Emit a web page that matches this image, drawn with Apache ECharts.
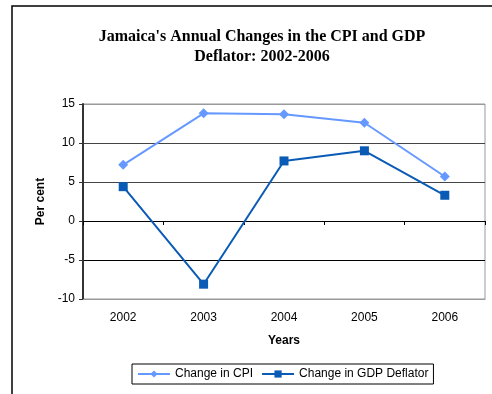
<!DOCTYPE html>
<html>
<head>
<meta charset="utf-8">
<script src="https://cdn.jsdelivr.net/npm/echarts@6/dist/echarts.min.js"></script>
<style>
  html, body { margin: 0; padding: 0; background: #fff; }
  #chart { width: 492px; height: 394px; }
</style>
</head>
<body>
<div id="chart"></div>
<script>
var years = ['2002', '2003', '2004', '2005', '2006'];
var cpiChange = [7.2, 13.8, 13.7, 12.6, 5.7];
var gdpDeflatorChange = [4.4, -8.1, 7.7, 9.0, 3.3];
var yTicks = { min: -10, max: 15, interval: 5 };

var chart = echarts.init(document.getElementById('chart'));

var option = {
	animation : false,
	title : {
		text : "Jamaica's Annual Changes in the CPI and GDP\nDeflator: 2002-2006",
		left : 257,
		top : 22,
		textAlign : 'center',
		textStyle : {
			fontFamily : 'Liberation Serif',
			fontSize : 16,
			fontWeight : 'bold',
			color : '#000',
			lineHeight : 20
		}
	},
	graphic : [ {
		type : 'rect',
		shape : { x : 12, y : 6, width : 520, height : 420 },
		style : { fill : null, stroke : '#000', lineWidth : 1.5 },
		z : -1
	} ],
	legend : {
		data : [ 'Change in CPI', 'Change in GDP Deflator' ],
		left : 132,
		top : 364,
		borderColor : '#000',
		borderWidth : 1,
		padding : [ 4, 5 ],
		itemWidth : 32,
		itemHeight : 9,
		itemGap : 8,
		textStyle : {
			fontFamily : 'Liberation Sans',
			fontSize : 12,
			color : '#000'
		}
	},
	grid : {
		left : 83,
		right : 7,
		top : 104,
		bottom : 95,
		show : true,
		borderColor : '#999',
		borderWidth : 1
	},
	xAxis : [ {
		type : 'category',
		data : years,
		position : 'bottom',
		axisLine : { onZero : false, lineStyle : { color : '#999' } },
		axisTick : { show : false },
		axisLabel : {
			margin : 13,
			fontFamily : 'Liberation Sans',
			fontSize : 12,
			color : '#000'
		},
		name : 'Years',
		nameLocation : 'middle',
		nameGap : 36,
		nameTextStyle : {
			fontFamily : 'Liberation Sans',
			fontSize : 12,
			fontWeight : 'bold',
			color : '#000'
		}
	}, {
		type : 'category',
		data : years,
		position : 'bottom',
		axisLine : { onZero : true, onZeroAxisIndex : 0, lineStyle : { color : '#000' } },
		axisTick : { show : true, length : 4, lineStyle : { color : '#000' } },
		axisLabel : { show : false }
	} ],
	yAxis : {
		type : 'value',
		min : yTicks.min,
		max : yTicks.max,
		interval : yTicks.interval,
		axisLine : { show : true, lineStyle : { color : '#333', width : 2 } },
		axisTick : { show : true, length : 4, lineStyle : { color : '#333' } },
		axisLabel : {
			margin : 8,
			fontFamily : 'Liberation Sans',
			fontSize : 12,
			color : '#000'
		},
		splitLine : {
			show : true,
			lineStyle : { color : [ '#999', '#000', '#000', '#444', '#444', '#999' ], width : 1 }
		},
		name : 'Per cent',
		nameLocation : 'middle',
		nameGap : 36,
		nameRotate : 90,
		nameTextStyle : {
			fontFamily : 'Liberation Sans',
			fontSize : 12,
			fontWeight : 'bold',
			color : '#000'
		}
	},
	series : [ {
		name : 'Change in CPI',
		type : 'line',
		xAxisIndex : 0,
		data : cpiChange,
		symbol : 'diamond',
		symbolSize : 10,
		itemStyle : { color : '#6699FF' },
		lineStyle : { color : '#6699FF', width : 2 }
	}, {
		name : 'Change in GDP Deflator',
		type : 'line',
		xAxisIndex : 0,
		data : gdpDeflatorChange,
		symbol : 'rect',
		symbolSize : 9,
		itemStyle : { color : '#0A5BB5' },
		lineStyle : { color : '#0A5BB5', width : 2 }
	} ]
};

chart.setOption(option, true);
</script>
</body>
</html>
